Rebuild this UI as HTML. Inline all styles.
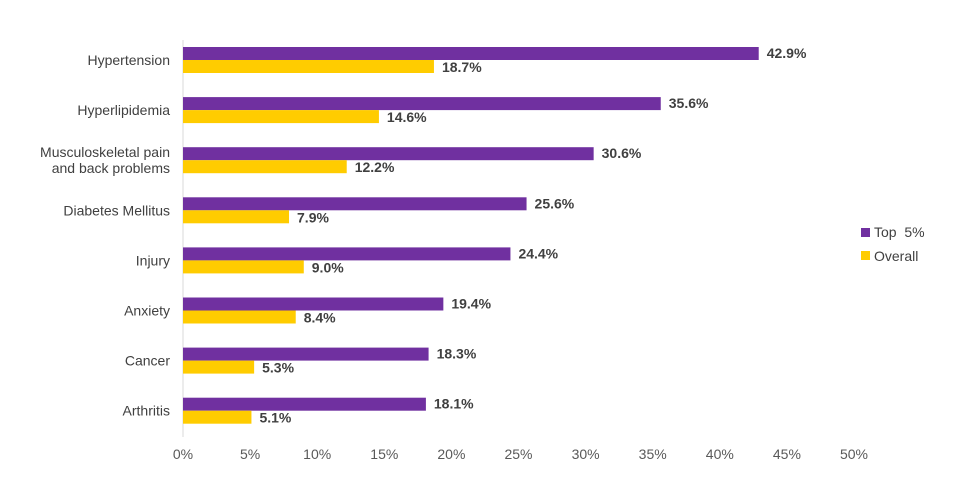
<!DOCTYPE html>
<html><head><meta charset="utf-8"><style>
body{margin:0;background:#fff;}
svg{display:block;font-family:"Liberation Sans",Arial,sans-serif;}
</style></head><body>
<svg id="chart" width="956" height="502"></svg>
<script>
const categories=["Hypertension","Hyperlipidemia","Musculoskeletal pain|and back problems","Diabetes Mellitus","Injury","Anxiety","Cancer","Arthritis"];
const top5=[42.9,35.6,30.6,25.6,24.4,19.4,18.3,18.1];
const overall=[18.7,14.6,12.2,7.9,9.0,8.4,5.3,5.1];
const ticks=[0,5,10,15,20,25,30,35,40,45,50];
const NS="http://www.w3.org/2000/svg";
const svg=document.getElementById('chart');
const x0=183,pxPer=13.42;
const xs=v=>x0+v*pxPer;
const yc=i=>60+i*50.1;
function mk(t,a,txt){const e=document.createElementNS(NS,t);for(const k in a)e.setAttribute(k,a[k]);if(txt!=null)e.textContent=txt;svg.appendChild(e);return e;}
let ax=mk('line',{x1:x0,y1:40,x2:x0,y2:437,stroke:'#d9d9d9','stroke-width':1});


ticks.forEach(t=>{
 const e=mk('text',{x:xs(t),y:459,'text-anchor':'middle','font-size':14,fill:'#595959'},t+'%');
 
 
});
categories.forEach((c,i)=>{
 const y=yc(i);
 const lines=c.split('|');
 lines.forEach((l,j)=>{
  const e=mk('text',{x:170,y:y+5+(j-(lines.length-1)/2)*16,'text-anchor':'end','font-size':14,fill:'#404040'},l);
  
  
 });
 const b1=mk('rect',{x:x0,y:y-13,width:xs(top5[i])-x0,height:13,fill:'#7030A0'});
 
 
 const b2=mk('rect',{x:x0,y:y,width:xs(overall[i])-x0,height:13,fill:'#FFCC00'});
 
 
 const l1=mk('text',{x:xs(top5[i])+8,y:y-2,'font-size':14,'font-weight':'bold',fill:'#404040'},top5[i].toFixed(1)+'%');
 
 
 const l2=mk('text',{x:xs(overall[i])+8,y:y+12,'font-size':14,'font-weight':'bold',fill:'#404040'},overall[i].toFixed(1)+'%');
 
 
});
const lg1=mk('rect',{x:861,y:228,width:9,height:9,fill:'#7030A0'});


const lt1=mk('text',{x:874,y:237,'font-size':14,fill:'#404040'},'Top \u00a05%');


const lg2=mk('rect',{x:861,y:251,width:9,height:9,fill:'#FFCC00'});


const lt2=mk('text',{x:874,y:261,'font-size':14,fill:'#404040'},'Overall');


</script>
</body></html>
